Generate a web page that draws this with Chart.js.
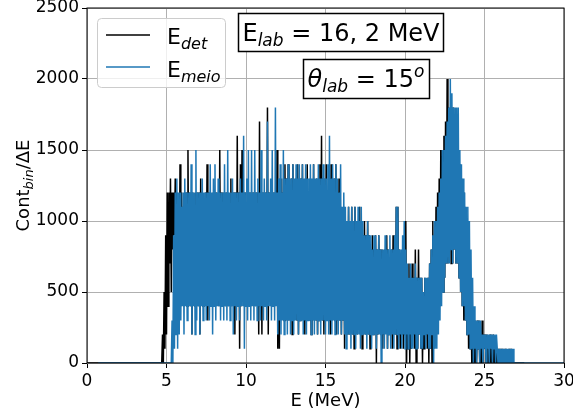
<!DOCTYPE html>
<html>
<head>
<meta charset="utf-8">
<script src="https://cdn.jsdelivr.net/npm/chart.js@4.4.1/dist/chart.umd.min.js"></script>
<style>
  html, body { margin: 0; padding: 0; background: #fff; }
  #wrap { width: 573px; height: 417px; }
</style>
</head>
<body>
<div id="wrap"><canvas id="espectro" width="573" height="417"></canvas></div>
<script>
// grade de energia (MeV) dos bins desenhados
const E0 = 4.5;
const passo = 0.05;
const deltaE = 0.01; // largura do bin na normalização Cont/ΔE

// contagens por bin, energia depositada no detector (preto)
// cada linha = 1 MeV, começando em 4.50, 5.50, ...
const contDet = [
  0,0,0,0,0,2,0,5,1,9,2,12,4,12,7,13,5,12,8,12,
  9,13,7,12,4,11,5,14,4,12,5,11,4,12,5,12,4,15,5,12,
  4,12,2,12,5,11,4,12,5,12,4,12,2,13,5,12,4,11,5,12,
  5,14,3,12,4,12,5,11,4,12,5,12,4,12,5,11,4,15,5,12,
  4,12,5,11,4,12,5,12,4,11,5,13,4,12,5,12,2,12,4,16,
  5,12,1,14,4,15,5,12,4,12,5,11,4,12,5,12,4,12,5,12,
  5,12,4,12,5,12,2,17,4,12,2,12,5,12,4,12,4,18,2,12,
  5,12,4,12,5,12,4,12,5,15,1,12,1,13,4,12,5,13,3,14,
  3,13,4,14,3,12,4,13,2,14,3,12,4,13,3,14,2,12,3,13,
  4,14,3,12,2,13,3,14,4,12,3,13,2,12,3,14,4,12,3,13,
  2,12,3,14,4,16,3,13,2,12,3,14,4,12,3,13,2,14,3,12,
  4,13,3,14,2,12,3,13,3,11,2,10,3,11,1,10,3,9,2,11,
  2,10,3,11,2,10,1,11,3,10,2,9,3,11,2,10,1,9,3,10,
  2,9,3,10,2,9,1,8,3,9,2,8,3,9,0,8,2,9,3,8,
  2,8,1,7,2,8,3,9,1,8,2,7,3,8,1,9,2,8,2,11,
  1,11,2,8,1,7,2,8,1,7,2,10,0,6,1,7,0,6,1,7,
  2,6,1,8,0,6,1,8,2,6,1,6,0,5,1,6,2,5,1,6,
  0,7,1,8,0,10,1,8,2,11,3,12,3,13,4,15,5,15,5,16,
  6,17,7,20,7,18,8,17,7,18,7,18,8,16,7,17,7,15,6,14,
  5,13,4,12,3,11,3,10,2,9,1,7,1,5,0,3,0,3,0,2,
  0,3,1,3,0,2,0,3,0,2,1,2,0,2,0,1,0,2,0,1,
  0,2,0,1,0,1,0,1,0,1,0,1,0,1,0,0,1,0,0,0,
  0,1,0,0,1,0,0,0,0,0,0,0,0,0,0,0,0,0,0,0,0
];

// contagens por bin, energia corrigida pela perda no meio (azul)
const contMeio = [
  0,0,0,0,0,0,0,0,0,0,0,0,0,0,0,0,0,3,0,9,
  1,12,2,13,1,12,2,12,3,11,4,12,2,13,4,12,3,12,4,12,
  4,14,2,12,4,12,2,15,3,12,4,12,2,12,4,13,3,12,4,12,
  3,12,4,12,3,14,4,12,2,13,4,14,3,12,4,13,4,12,3,12,
  4,12,3,14,4,12,3,15,4,12,3,12,4,13,2,12,4,12,3,12,
  4,12,3,13,4,12,4,16,1,12,4,13,3,15,4,12,3,15,4,12,
  3,15,4,12,3,13,4,12,3,15,4,12,3,13,4,12,3,17,4,12,
  4,13,3,15,4,12,3,18,4,12,2,13,3,14,2,12,3,15,2,13,
  3,13,2,14,3,13,2,13,3,14,2,13,3,14,3,13,2,14,3,13,
  3,14,2,13,3,14,2,13,3,13,3,14,2,13,3,14,2,13,3,13,
  2,14,3,13,2,13,3,14,3,13,2,13,3,14,2,16,3,13,2,14,
  3,13,2,14,3,13,2,12,3,14,2,11,3,12,2,11,1,10,2,11,
  2,10,1,11,2,10,2,11,1,10,2,11,2,10,1,11,2,10,2,9,
  2,9,1,10,2,9,2,9,1,8,2,9,2,9,1,8,2,9,2,8,
  0,8,2,8,1,9,2,8,1,8,2,9,1,8,2,8,1,9,2,11,
  2,11,1,8,2,8,1,9,2,10,1,8,2,7,1,6,2,7,1,6,
  1,6,2,7,1,6,1,6,2,6,1,6,1,5,2,6,1,6,2,6,
  1,7,1,8,2,9,0,10,1,10,1,11,2,12,3,13,4,15,5,15,
  6,16,7,17,7,18,7,20,8,19,7,18,8,18,7,18,7,18,6,15,
  5,14,4,13,4,12,3,11,2,11,2,10,1,8,1,6,0,4,1,3,
  0,3,1,3,0,3,1,2,0,2,1,2,0,2,1,2,0,2,1,2,
  0,2,1,2,0,2,1,0,1,0,1,0,1,0,1,0,1,0,1,0,
  1,0,1,0,1,0,1,0,0,0,0,0,0,0,0,0,0,0,0,0,0
];

const ticksX = [0, 5, 10, 15, 20, 25, 30];
const ticksY = [0, 500, 1000, 1500, 2000, 2500];

const FONTE = 'DejaVu Sans';
const AZUL = '#1f77b4';

// converte contagens em pontos {x: E, y: Cont/ΔE}, com o trecho nulo antes e depois
function serie(cont, inicio, fim) {
  const pts = [{ x: inicio, y: 0 }];
  cont.forEach((c, i) => {
    pts.push({ x: +(E0 + i * passo).toFixed(2), y: Math.round(c / deltaE) });
  });
  if (fim > pts[pts.length - 1].x) pts.push({ x: fim, y: 0 });
  return pts;
}

// escreve texto com sub/sobrescritos: partes = [texto, fonte, deslocamento]
function textoComposto(ctx, partes, x, y) {
  let largura = 0;
  for (const [t, f] of partes) { ctx.font = f; largura += ctx.measureText(t).width; }
  let cx = x - largura / 2;
  ctx.textAlign = 'left';
  ctx.textBaseline = 'alphabetic';
  for (const [t, f, dy] of partes) {
    ctx.font = f;
    ctx.fillText(t, cx, y + dy);
    cx += ctx.measureText(t).width;
  }
}

const decoracao = {
  id: 'decoracao',
  afterDatasetsDraw(chart) {
    const { ctx, chartArea: a } = chart;
    ctx.save();
    ctx.strokeStyle = '#000';
    ctx.lineWidth = 1;
    ctx.strokeRect(a.left, a.top, a.right - a.left, a.bottom - a.top);
    ctx.restore();
  },
  afterDraw(chart) {
    const ctx = chart.ctx;
    ctx.save();
    ctx.fillStyle = '#000';

    // legenda
    ctx.beginPath();
    ctx.roundRect(97.5, 18.5, 128, 69, 4);
    ctx.fillStyle = 'rgba(255,255,255,0.8)';
    ctx.fill();
    ctx.strokeStyle = '#cccccc';
    ctx.lineWidth = 1;
    ctx.stroke();
    ctx.lineWidth = 1.5;
    ctx.strokeStyle = '#000';
    ctx.beginPath(); ctx.moveTo(106, 35); ctx.lineTo(150, 35); ctx.stroke();
    ctx.strokeStyle = AZUL;
    ctx.beginPath(); ctx.moveTo(106, 67); ctx.lineTo(150, 67); ctx.stroke();
    ctx.fillStyle = '#000';
    ctx.textAlign = 'left';
    ctx.font = `22px ${FONTE}`;
    ctx.fillText('E', 167, 44);
    ctx.fillText('E', 167, 77);
    const wE = ctx.measureText('E').width;
    ctx.font = `italic 16px ${FONTE}`;
    ctx.fillText('det', 167 + wE, 49);
    ctx.fillText('meio', 167 + wE, 82);

    // caixas com energia e ângulo
    ctx.fillStyle = '#fff';
    ctx.strokeStyle = '#000';
    ctx.lineWidth = 1.5;
    ctx.fillRect(238.5, 13.5, 205, 38);
    ctx.strokeRect(238.5, 13.5, 205, 38);
    ctx.fillRect(303.5, 59.5, 126, 39);
    ctx.strokeRect(303.5, 59.5, 126, 39);
    ctx.fillStyle = '#000';
    textoComposto(ctx, [
      ['E', `24px ${FONTE}`, 0],
      ['lab', `italic 17px ${FONTE}`, 5],
      [' = 16, 2 MeV', `24px ${FONTE}`, 0]
    ], 341, 41);
    textoComposto(ctx, [
      ['θ', `italic 24px ${FONTE}`, 0],
      ['lab', `italic 17px ${FONTE}`, 5],
      [' = 15', `24px ${FONTE}`, 0],
      ['o', `italic 17px ${FONTE}`, -10]
    ], 366, 87);

    // títulos dos eixos
    textoComposto(ctx, [['E (MeV)', `18px ${FONTE}`, 0]], 325.5, 406);
    ctx.translate(29, 185.5);
    ctx.rotate(-Math.PI / 2);
    textoComposto(ctx, [
      ['Cont', `18px ${FONTE}`, 0],
      ['bin', `italic 13px ${FONTE}`, 4],
      ['/ΔE', `18px ${FONTE}`, 0]
    ], 0, 0);
    ctx.restore();
  }
};

new Chart(document.getElementById('espectro'), {
  type: 'line',
  data: {
    datasets: [
      {
        label: 'E_det',
        data: serie(contDet, 0, 27.5),
        borderColor: '#000',
        borderWidth: 1.5,
        pointRadius: 0,
        order: 1
      },
      {
        label: 'E_meio',
        data: serie(contMeio, 0.7, 30),
        borderColor: AZUL,
        borderWidth: 1.5,
        pointRadius: 0,
        order: 0
      }
    ]
  },
  options: {
    responsive: false,
    animation: false,
    layout: { padding: { top: 8, right: 9, left: 0, bottom: 0 } },
    elements: { line: { tension: 0 } },
    plugins: { legend: { display: false }, tooltip: { enabled: false } },
    scales: {
      x: {
        type: 'linear',
        min: 0,
        max: 30,
        afterBuildTicks: s => { s.ticks = ticksX.map(v => ({ value: v })); },
        afterFit: s => { s.height = 54; s.paddingLeft = 0; s.paddingRight = 0; },
        ticks: { color: '#000', font: { family: FONTE, size: 17 }, padding: 3, maxRotation: 0, callback: v => String(v) },
        grid: { color: '#b0b0b0', lineWidth: 1, tickColor: '#000', tickLength: 5 },
        border: { display: false }
      },
      y: {
        min: 0,
        max: 2500,
        afterBuildTicks: s => { s.ticks = ticksY.map(v => ({ value: v })); },
        afterFit: s => { s.width = 87; s.paddingTop = 0; s.paddingBottom = 0; },
        ticks: { color: '#000', font: { family: FONTE, size: 17 }, padding: 3, callback: v => String(v) },
        grid: { color: '#b0b0b0', lineWidth: 1, tickColor: '#000', tickLength: 5 },
        border: { display: false }
      }
    }
  },
  plugins: [decoracao]
});
</script>
</body>
</html>
